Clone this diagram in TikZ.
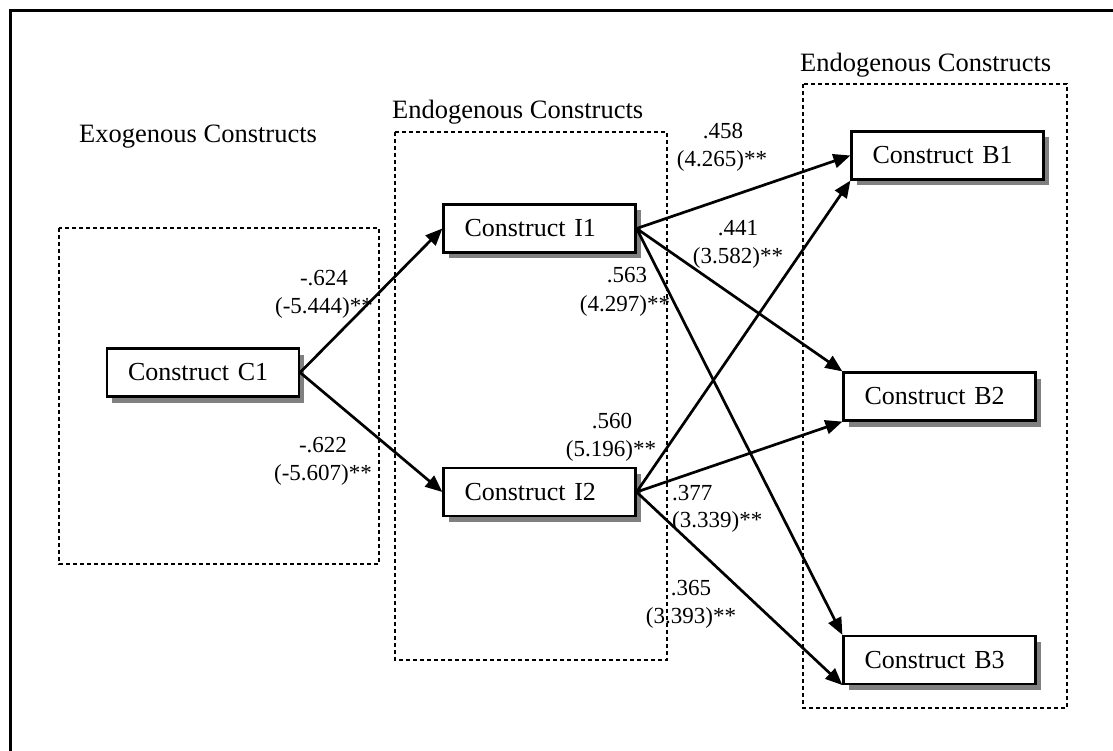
\documentclass[tikz,border=0pt]{standalone}
\usepackage{fontspec}
\setmainfont{Liberation Serif}
\usetikzlibrary{arrows.meta,shadows}

\tikzset{
  frame/.style={line width=3pt, line cap=rect},
  groupbox/.style={draw, line width=1.1pt, dash pattern=on 4pt off 3pt},
  heading/.style={anchor=base west, inner sep=0pt, font=\fontsize{26.5}{30}\selectfont},
  construct/.style={draw, line width=2.2pt, fill=white, text width=150pt, inner xsep=21pt,
    inner ysep=0pt, align=left, minimum height=48pt, font=\fontsize{26}{30}\selectfont,
    drop shadow={shadow xshift=5pt, shadow yshift=-6pt, fill=black!50, opacity=1}},
  coef/.style={anchor=base, inner sep=0pt, font=\fontsize{23}{28}\selectfont},
  coefleft/.style={coef, anchor=base west},
  path arrow/.style={line width=2.7pt, -{Triangle[length=17pt,width=14pt]}}
}

\begin{document}
\begin{tikzpicture}[x=1pt, y=-1pt]
  \useasboundingbox (0,0) rectangle (1113,751);

  % page frame (only top and left edges fall inside the picture)
  \draw[frame] (1125,11) -- (10.5,11) -- (10.5,765);

  % construct groups
  \draw[groupbox] (59,228) rectangle (379,564);
  \draw[groupbox] (395,132) rectangle (667,660);
  \draw[groupbox] (803,84) rectangle (1067,708);

  \node[heading] (hexo) at (79,143) {Exogenous Constructs};
  \node[heading] (hendo1) at (392,119) {Endogenous Constructs};
  \node[heading] (hendo2) at (800,72) {Endogenous Constructs};

  % constructs
  \node[construct] (c1) at (203,372.5) {Construct C1};
  \node[construct] (i1) at (539.5,228.5) {Construct I1};
  \node[construct] (i2) at (539.5,492) {Construct I2};
  \node[construct] (b1) at (947.5,155.5) {Construct B1};
  \node[construct] (b2) at (939.5,396.5) {Construct B2};
  \node[construct] (b3) at (939.5,660) {Construct B3};

  % structural paths
  \draw[path arrow] (c1.east) -- (i1.west);
  \draw[path arrow] (c1.east) -- (i2.west);
  \draw[path arrow] (i1.east) -- (b1.west);
  \draw[path arrow] (i1.east) -- (b2.north west);
  \draw[path arrow] (i1.east) -- (b3.north west);
  \draw[path arrow] (i2.east) -- (b1.south west);
  \draw[path arrow] (i2.east) -- (b2.south west);
  \draw[path arrow] (i2.east) -- (b3.south west);

  % path coefficients (t-values)
  \node[coef] (k1a) at (324,285) {-.624};
  \node[coef] (k1b) at (324,313) {(-5.444)**};
  \node[coef] (k2a) at (323,452) {-.622};
  \node[coef] (k2b) at (323,480) {(-5.607)**};
  \node[coef] (k3a) at (723,139) {.458};
  \node[coef] (k3b) at (722,167) {(4.265)**};
  \node[coef] (k4a) at (738,236) {.441};
  \node[coef] (k4b) at (738,263) {(3.582)**};
  \node[coef] (k5a) at (627,283) {.563};
  \node[coef] (k5b) at (625,311) {(4.297)**};
  \node[coef] (k6a) at (612,428) {.560};
  \node[coef] (k6b) at (611,456) {(5.196)**};
  \node[coefleft] (k7a) at (672,500) {.377};
  \node[coefleft] (k7b) at (672,527) {(3.339)**};
  \node[coef] (k8a) at (691,595) {.365};
  \node[coef] (k8b) at (691,623) {(3.393)**};
\end{tikzpicture}
\end{document}
